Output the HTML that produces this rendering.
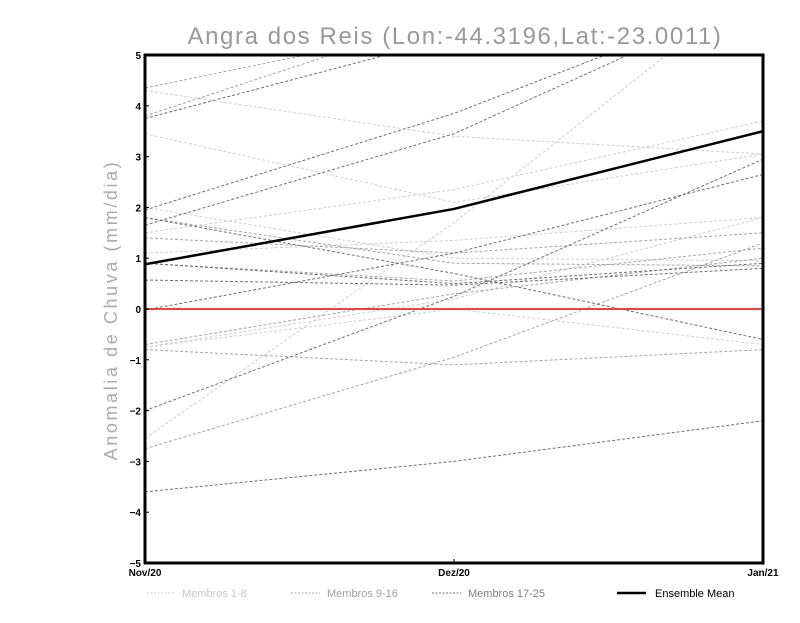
<!DOCTYPE html>
<html><head><meta charset="utf-8"><style>
html,body{margin:0;padding:0;background:#fff;}
svg text{font-family:"Liberation Sans",sans-serif;}
</style></head><body>
<svg id="chart" width="800" height="618" viewBox="0 0 800 618" xmlns="http://www.w3.org/2000/svg">
<text x="455" y="44" text-anchor="middle" font-size="24" fill="#999" font-weight="300" letter-spacing="1.6">Angra dos Reis (Lon:-44.3196,Lat:-23.0011)</text>
<text transform="translate(117,310) rotate(-90)" text-anchor="middle" font-size="18" fill="#aaa" letter-spacing="2.6">Anomalia de Chuva (mm/dia)</text>
<defs><clipPath id="clip"><rect x="145" y="55" width="618" height="508"/></clipPath></defs>
<g id="series" clip-path="url(#clip)"></g>
<g id="axes"></g>
<g id="legend">
<g><line x1="147" y1="593" x2="175" y2="593" stroke="#d0d0d0" stroke-dasharray="2,1.5"/><text x="182" y="597" font-size="11" fill="#c8c8c8">Membros 1-8</text></g>
<g><line x1="291" y1="593" x2="320" y2="593" stroke="#a8a8a8" stroke-dasharray="2,1.5"/><text x="327" y="597" font-size="11" fill="#a0a0a0">Membros 9-16</text></g>
<g><line x1="432" y1="593" x2="461" y2="593" stroke="#777" stroke-dasharray="2,1.5"/><text x="468" y="597" font-size="11" fill="#808080">Membros 17-25</text></g>
<g><line x1="617" y1="593" x2="646" y2="593" stroke="#000" stroke-width="2.5"/><text x="655" y="597" font-size="11" fill="#000">Ensemble Mean</text></g>
</g>
</svg>
<script>
const categories = ["Nov/20","Dez/20","Jan/21"];
const yTicks = [-5,-4,-3,-2,-1,0,1,2,3,4,5];
const light = [[4.3,3.4,3.05],[3.45,2.1,3.05],[-2.55,1.7,6.5],[1.5,2.35,3.7],[-0.75,0.2,1.8],[1.1,1.35,1.8],[2.0,1.0,0.95],[-0.75,0.0,-0.7]];
const medium = [[4.35,5.6,7],[3.8,5.8,7],[-2.75,-0.95,1.3],[-0.8,-1.1,-0.8],[1.4,1.1,1.5],[1.8,0.9,0.85],[0.9,0.55,1.2],[-0.7,0.3,1.0]];
const dark = [[3.75,5.35,7],[1.95,3.85,6.2],[1.65,3.45,6.2],[-2.0,0.25,2.95],[-0.02,1.1,2.65],[-3.6,-3.0,-2.2],[0.57,0.47,0.8],[0.9,0.5,0.9],[1.8,0.7,-0.6]];
const ensembleMean = [0.88,1.97,3.5];
const NS="http://www.w3.org/2000/svg";
const X0=145,X1=763,Y0=55,Y1=563;
function xs(i){return X0+(X1-X0)*i/(categories.length-1);}
function ys(v){return Y1-(v+5)/10*(Y1-Y0);}
const sg=document.getElementById('series'), ax=document.getElementById('axes');
function mk(tag,attrs,parent){const e=document.createElementNS(NS,tag);for(const k in attrs)e.setAttribute(k,attrs[k]);parent.appendChild(e);return e;}
function pts(arr){return arr.map((v,i)=>xs(i)+","+ys(v)).join(" ");}
function drawGroup(arr,color,name){arr.forEach((s,k)=>{const p=mk('polyline',{points:pts(s),fill:'none',stroke:color,'stroke-width':1,'stroke-dasharray':'3,2'},sg);

});}
drawGroup(light,'#cfcfcf','member-light');
drawGroup(medium,'#a5a5a5','member-medium');
drawGroup(dark,'#707070','member-dark');
const zl=mk('line',{x1:X0,x2:X1,y1:ys(0),y2:ys(0),stroke:'#f04040','stroke-width':2},sg);


const em=mk('polyline',{points:pts(ensembleMean),fill:'none',stroke:'#000','stroke-width':2.5},sg);


const fr=mk('rect',{x:X0,y:Y0,width:X1-X0,height:Y1-Y0,fill:'none',stroke:'#000','stroke-width':3},ax);


yTicks.forEach(t=>{const tx=mk('text',{x:X0-4,y:ys(t)+4,'text-anchor':'end','font-size':10,'font-weight':'bold',fill:'#000'},ax);tx.textContent=String(t).replace('-','−');


mk('line',{x1:X0,x2:X0+4,y1:ys(t),y2:ys(t),stroke:'#000'},ax);});
categories.forEach((c,i)=>{const tx=mk('text',{x:xs(i),y:Y1+13,'text-anchor':'middle','font-size':10,'font-weight':'bold',fill:'#000'},ax);tx.textContent=c;


mk('line',{x1:xs(i),x2:xs(i),y1:Y1,y2:Y1-4,stroke:'#000'},ax);});
</script>
</body></html>
